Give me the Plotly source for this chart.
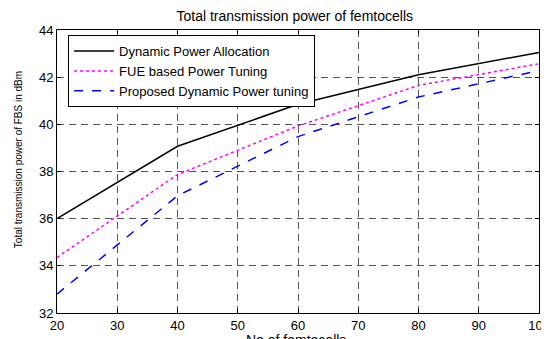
import plotly.graph_objects as go

femtocells = [20, 40, 60, 80, 100]
dynamic_power_allocation = [36.0, 39.07, 40.85, 42.1, 43.05]
fue_based_power_tuning = [34.35, 37.87, 39.93, 41.65, 42.57]
proposed_dynamic_power_tuning = [32.8, 36.97, 39.48, 41.16, 42.28]

x_ticks = [20, 30, 40, 50, 60, 70, 80, 90, 100]
y_ticks = [32, 34, 36, 38, 40, 42, 44]

FONT = "Liberation Sans, Arial, sans-serif"

fig = go.Figure()
fig.add_trace(go.Scatter(x=femtocells, y=dynamic_power_allocation, mode="lines",
                         name="Dynamic Power Allocation",
                         line=dict(color="black", width=1.5, dash="solid")))
fig.add_trace(go.Scatter(x=femtocells, y=fue_based_power_tuning, mode="lines",
                         name="FUE based Power Tuning",
                         line=dict(color="#ff00ff", width=1.5, dash="dot")))
fig.add_trace(go.Scatter(x=femtocells, y=proposed_dynamic_power_tuning, mode="lines",
                         name="Proposed Dynamic Power tuning",
                         line=dict(color="#0000ff", width=1.5, dash="dash")))

axis_common = dict(
    showline=True, linecolor="black", linewidth=1, mirror="ticks",
    ticks="inside", ticklen=4, tickcolor="black",
    showgrid=True, gridcolor="#555555", gridwidth=1, griddash="7px,5px",
    zeroline=False, tickfont=dict(family=FONT, size=13, color="black"),
    automargin=False, ticklabeloverflow="allow",
)

fig.update_xaxes(range=[20, 100], tickvals=x_ticks, **axis_common)
fig.update_yaxes(range=[32, 44], tickvals=y_ticks, **axis_common)

fig.add_annotation(text="No of femtocells", xref="paper", yref="paper", x=0.496, y=0,
                   xanchor="center", yanchor="top", yshift=-17, showarrow=False,
                   font=dict(family=FONT, size=14, color="black"))
fig.add_annotation(text="Total transmission power of FBS in dBm", xref="paper", yref="paper",
                   x=0, y=0.54, xanchor="center", yanchor="middle", xshift=-39,
                   textangle=-90, showarrow=False,
                   font=dict(family=FONT, size=10, color="black"))

# the page body has an 8px margin, so the figure is 8px smaller and shifted
fig.update_layout(
    width=541, height=331,
    margin=dict(l=49, r=10, t=22, b=26),
    paper_bgcolor="white", plot_bgcolor="white",
    title=dict(text="Total transmission power of femtocells", x=0.530, xanchor="center",
               y=0.976, yanchor="middle", font=dict(family=FONT, size=14, color="black")),
    legend=dict(x=0.023, y=0.982, xanchor="left", yanchor="top",
                bgcolor="white", bordercolor="black", borderwidth=1,
                font=dict(family=FONT, size=13, color="black"),
                tracegroupgap=0, itemwidth=40),
    showlegend=True,
)

fig.write_html("out.html")
